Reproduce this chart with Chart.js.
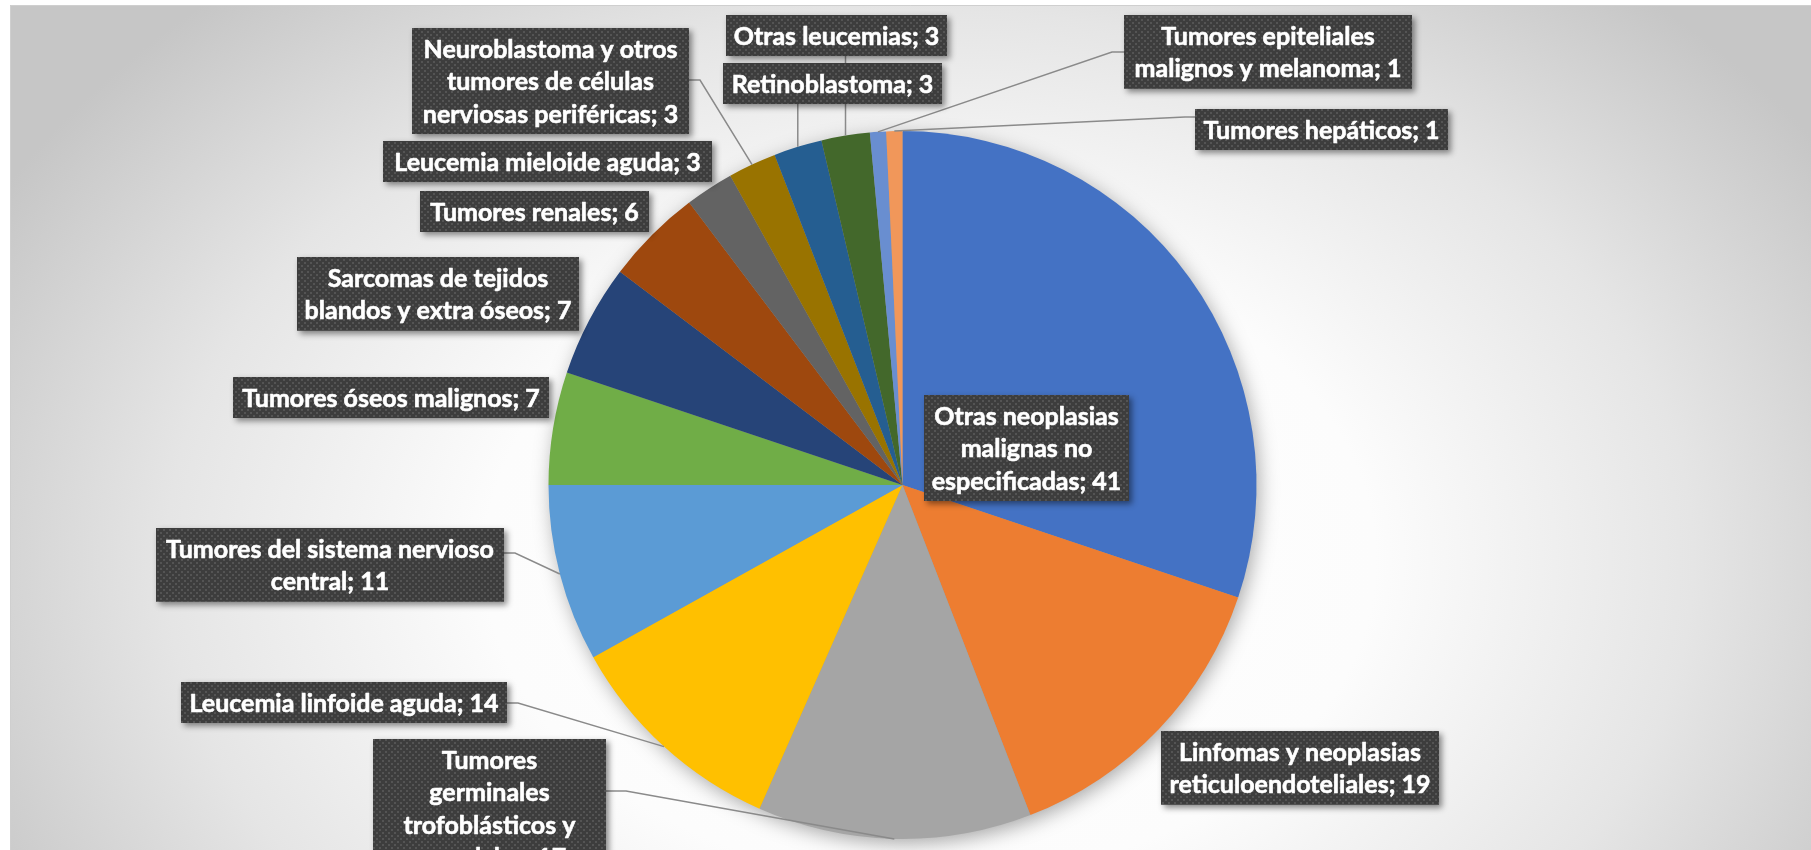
<!DOCTYPE html>
<html>
<head>
<meta charset="utf-8">
<script src="https://cdn.jsdelivr.net/npm/chart.js@4.4.1/dist/chart.umd.min.js"></script>
<style>
html,body{margin:0;padding:0;background:#fff;overflow:hidden;width:1811px;height:850px}
canvas{display:block}
</style>
</head>
<body>
<canvas id="c" width="1811" height="850"></canvas>
<script>
// ---- data ----
const labelLines = [
  ["Otras neoplasias", "malignas no", "especificadas"],
  ["Linfomas y neoplasias", "reticuloendoteliales"],
  ["Tumores", "germinales", "trofoblásticos y", "gonadales"],
  ["Leucemia linfoide aguda"],
  ["Tumores del sistema nervioso", "central"],
  ["Tumores óseos malignos"],
  ["Sarcomas de tejidos", "blandos y extra óseos"],
  ["Tumores renales"],
  ["Leucemia mieloide aguda"],
  ["Neuroblastoma y otros", "tumores de células", "nerviosas periféricas"],
  ["Retinoblastoma"],
  ["Otras leucemias"],
  ["Tumores epiteliales", "malignos y melanoma"],
  ["Tumores hepáticos"]
];
const categories = labelLines.map(l => l.join(" "));
const values = [41, 19, 17, 14, 11, 7, 7, 6, 3, 3, 3, 3, 1, 1];
const colors = ["#4472C4", "#ED7D31", "#A5A5A5", "#FFC000", "#5B9BD5", "#70AD47",
                "#264478", "#9E480E", "#636363", "#997300", "#255E91", "#43682B",
                "#698ED0", "#F1975A"];

// ---- label layout (box left, top, right) and leader attachment ----
const labelLayout = [
  {box: [924, 395, 1129]},
  {box: [1161, 731, 1439]},
  {box: [373, 739, 606], leader: {side: "right", at: 791, elbow: 20}},
  {box: [181, 682, 507], leader: {side: "right", at: 703, elbow: 11}},
  {box: [156, 528, 504], leader: {side: "right", at: 553, elbow: 11}},
  {box: [233, 377, 549]},
  {box: [297, 257, 579]},
  {box: [420, 191, 649]},
  {box: [383, 141, 712]},
  {box: [412, 28, 689], leader: {side: "right", at: 80, elbow: 11}},
  {box: [723, 63, 942], leader: {side: "bottom"}},
  {box: [726, 15, 947], leader: {side: "bottom"}},
  {box: [1124, 15, 1412], leader: {side: "left", at: 52, elbow: 12}},
  {box: [1195, 109, 1448], leader: {side: "left", at: 117, elbow: 10}}
];

const FONT_FAMILY = 'Lato,"Open Sans","Liberation Sans",sans-serif';
const FONT_PX = 25;
const LINE_H = 32.5;
const PAD_V = 4.25;

function fitScale(ctx) {
  ctx.font = 'bold ' + FONT_PX + 'px ' + FONT_FAMILY;
  const w = ctx.measureText('Tumores óseos malignos; 7').width +
            ctx.measureText('Leucemia mieloide aguda; 3').width +
            ctx.measureText('Tumores del sistema nervioso').width;
  return 932 / w;
}

let dotPattern = null;
function getPattern(ctx) {
  if (dotPattern) return dotPattern;
  const t = document.createElement('canvas');
  t.width = 6; t.height = 6;
  const c = t.getContext('2d');
  c.fillStyle = '#3d3d3d'; c.fillRect(0, 0, 6, 6);
  c.fillStyle = '#545454';
  c.fillRect(1, 1, 2, 2);
  c.fillRect(4, 4, 2, 2);
  dotPattern = ctx.createPattern(t, 'repeat');
  return dotPattern;
}

const backgroundPlugin = {
  id: 'bg',
  beforeDraw(chart) {
    const ctx = chart.ctx;
    ctx.save();
    ctx.fillStyle = '#ffffff';
    ctx.fillRect(0, 0, chart.width, chart.height);
    const cx = 930, cy = 560, sy = 0.72, R = 1060;
    ctx.save();
    ctx.beginPath();
    ctx.rect(10, 5, chart.width - 10, chart.height - 5);
    ctx.clip();
    ctx.translate(cx, cy);
    ctx.scale(1, sy);
    const g = ctx.createRadialGradient(0, 0, 0, 0, 0, R);
    g.addColorStop(0, '#ffffff');
    g.addColorStop(0.42, '#fcfcfc');
    g.addColorStop(0.72, '#e5e5e5');
    g.addColorStop(1, '#c6c6c6');
    ctx.fillStyle = g;
    ctx.fillRect(-cx, -cy / sy, chart.width * 1.2, chart.height / sy * 1.5);
    ctx.restore();
    ctx.strokeStyle = '#cfcfcf';
    ctx.lineWidth = 1;
    ctx.beginPath();
    ctx.moveTo(10.5, chart.height);
    ctx.lineTo(10.5, 5.5);
    ctx.lineTo(chart.width, 5.5);
    ctx.stroke();
    ctx.restore();
  }
};

const shadowPlugin = {
  id: 'pieShadow',
  beforeDatasetsDraw(chart) {
    const arc = chart.getDatasetMeta(0).data[0];
    if (!arc) return;
    const p = arc.getProps(['x', 'y', 'outerRadius'], true);
    const ctx = chart.ctx;
    ctx.save();
    ctx.shadowColor = 'rgba(0,0,0,0.35)';
    ctx.shadowBlur = 20;
    ctx.shadowOffsetX = 3;
    ctx.shadowOffsetY = 5;
    ctx.beginPath();
    ctx.arc(p.x, p.y, p.outerRadius - 1, 0, Math.PI * 2);
    ctx.fillStyle = '#999';
    ctx.fill();
    ctx.restore();
  }
};

const labelPlugin = {
  id: 'calloutLabels',
  afterDatasetsDraw(chart) {
    const ctx = chart.ctx;
    const meta = chart.getDatasetMeta(0);
    const sx = fitScale(ctx);
    const boxes = labelLayout.map((lay, i) => {
      const lines = labelLines[i].slice();
      lines[lines.length - 1] = lines[lines.length - 1] + '; ' + values[i];
      const [l, t, r] = lay.box;
      const h = lines.length * LINE_H + 2 * PAD_V;
      return {l, t, r, b: t + h, lines, lay};
    });
    // leader lines
    ctx.save();
    ctx.strokeStyle = '#8a8a8a';
    ctx.lineWidth = 1.5;
    boxes.forEach((bx, i) => {
      const ld = bx.lay.leader;
      if (!ld) return;
      const a = meta.data[i].getProps(['x', 'y', 'startAngle', 'endAngle', 'outerRadius'], true);
      const mid = (a.startAngle + a.endAngle) / 2;
      const ex = a.x + Math.cos(mid) * a.outerRadius;
      const ey = a.y + Math.sin(mid) * a.outerRadius;
      ctx.beginPath();
      if (ld.side === 'right') {
        ctx.moveTo(bx.r, ld.at);
        ctx.lineTo(bx.r + ld.elbow, ld.at);
        ctx.lineTo(ex, ey);
      } else if (ld.side === 'left') {
        ctx.moveTo(bx.l, ld.at);
        ctx.lineTo(bx.l - ld.elbow, ld.at);
        ctx.lineTo(ex, ey);
      } else {
        ctx.moveTo(ex, bx.b);
        ctx.lineTo(ex, ey);
      }
      ctx.stroke();
    });
    ctx.restore();
    // boxes
    boxes.forEach(bx => {
      ctx.save();
      ctx.shadowColor = 'rgba(0,0,0,0.45)';
      ctx.shadowBlur = 6;
      ctx.shadowOffsetX = 3;
      ctx.shadowOffsetY = 3;
      ctx.fillStyle = '#3d3d3d';
      ctx.fillRect(bx.l, bx.t, bx.r - bx.l, bx.b - bx.t);
      ctx.restore();
      ctx.save();
      ctx.fillStyle = getPattern(ctx);
      ctx.fillRect(bx.l, bx.t, bx.r - bx.l, bx.b - bx.t);
      ctx.fillStyle = '#ffffff';
      ctx.strokeStyle = '#ffffff';
      ctx.lineWidth = 0.6;
      ctx.lineJoin = 'round';
      ctx.font = 'bold ' + FONT_PX + 'px ' + FONT_FAMILY;
      ctx.textAlign = 'center';
      ctx.textBaseline = 'middle';
      const cx = (bx.l + bx.r) / 2;
      bx.lines.forEach((ln, k) => {
        ctx.save();
        ctx.translate(cx, bx.t + PAD_V + LINE_H * (k + 0.5) + 1);
        ctx.scale(sx, 1);
        ctx.fillText(ln, 0, 0);
        ctx.strokeText(ln, 0, 0);
        ctx.restore();
      });
      ctx.restore();
    });
  }
};

new Chart(document.getElementById('c'), {
  type: 'pie',
  data: {
    labels: categories,
    datasets: [{
      data: values,
      backgroundColor: colors,
      borderWidth: 0
    }]
  },
  options: {
    responsive: false,
    devicePixelRatio: 1,
    animation: false,
    layout: {padding: {left: 548.5, right: 554.5, top: 131, bottom: 11}},
    plugins: {
      legend: {display: false},
      tooltip: {enabled: false}
    }
  },
  plugins: [backgroundPlugin, shadowPlugin, labelPlugin]
});
</script>
</body>
</html>
